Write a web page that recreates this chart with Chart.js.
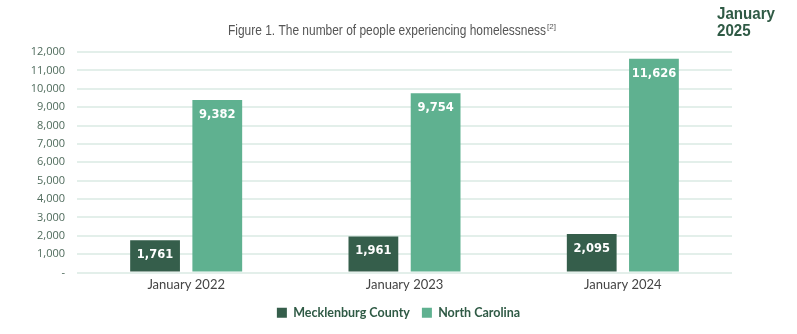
<!DOCTYPE html>
<html>
<head>
<meta charset="utf-8">
<script src="https://cdn.jsdelivr.net/npm/chart.js@4"></script>
<style>
  html, body { margin: 0; padding: 0; background: #fff; }
  #wrap { width: 797px; height: 334px; position: relative; }
</style>
</head>
<body>
<div id="wrap"><canvas id="chart"></canvas></div>
<script>
// data
var categories = ['January 2022', 'January 2023', 'January 2024'];
var mecklenburg = [1761, 1961, 2095];
var northCarolina = [9382, 9754, 11626];
var seriesNames = ['Mecklenburg County', 'North Carolina'];
var yMax = 12000;
var yStep = 1000;

var titleText = 'Figure 1. The number of people experiencing homelessness';
var titleNote = '[2]';
var cornerLines = ['January', '2025'];

var darkGreen = '#355e4b';
var lightGreen = '#5fb190';

// white numbers near the top of each bar
var barLabels = {
  id: 'barLabels',
  afterDatasetsDraw(chart) {
    var ctx = chart.ctx;
    ctx.save();
    ctx.fillStyle = '#fff';
    ctx.font = 'bold 11.5px "DejaVu Sans"';
    ctx.textAlign = 'center';
    ctx.textBaseline = 'middle';
    chart.data.datasets.forEach(function (ds, i) {
      chart.getDatasetMeta(i).data.forEach(function (bar, j) {
        ctx.fillText(ds.data[j].toLocaleString('en-US'), bar.x, bar.y + 15);
      });
    });
    ctx.restore();
  }
};

// title and the "January 2025" tag
var headings = {
  id: 'headings',
  afterDraw(chart) {
    var ctx = chart.ctx;
    ctx.save();
    ctx.fillStyle = '#555';
    ctx.font = '14px "Liberation Sans Narrow", "Liberation Sans"';
    ctx.textBaseline = 'middle';
    var w = ctx.measureText(titleText).width;
    var x = 228;
    ctx.save();
    ctx.translate(x, 31);
    ctx.scale(318 / w, 1);
    ctx.fillText(titleText, 0, 0);
    ctx.restore();
    ctx.font = '8px "Liberation Sans Narrow", "Liberation Sans"';
    ctx.fillText(titleNote, x + 319, 27);

    ctx.fillStyle = '#2f5a45';
    ctx.font = 'bold 16px "Liberation Sans"';
    var cw = ctx.measureText(cornerLines[0]).width;
    ctx.save();
    ctx.translate(717, 0);
    ctx.scale(58 / cw, 1);
    ctx.fillText(cornerLines[0], 0, 15);
    ctx.fillText(cornerLines[1], 0, 32);
    ctx.restore();
    ctx.restore();
  }
};

new Chart(document.getElementById('chart'), {
  type: 'bar',
  data: {
    labels: categories,
    datasets: [
      { label: seriesNames[0], data: mecklenburg, backgroundColor: darkGreen },
      { label: seriesNames[1], data: northCarolina, backgroundColor: lightGreen }
    ]
  },
  options: {
    responsive: true,
    maintainAspectRatio: false,
    animation: false,
    categoryPercentage: 0.57,
    barPercentage: 0.8,
    layout: { padding: { left: 0, right: 0, top: 52, bottom: 5 } },
    plugins: {
      title: { display: false },
      tooltip: { enabled: false },
      legend: {
        position: 'bottom',
        labels: {
          boxWidth: 10,
          boxHeight: 10,
          padding: 12,
          color: '#2f5a45',
          font: { family: 'Lato', size: 12.5, weight: 'bold' }
        }
      }
    },
    scales: {
      x: {
        grid: { display: false, drawTicks: false, tickLength: 0 },
        border: { display: false },
        ticks: { color: '#444', padding: 5, font: { family: 'Lato', size: 13 } },
        afterFit(scale) { scale.height = 22; }
      },
      y: {
        min: 0,
        max: yMax,
        border: { display: false },
        grid: { color: '#e3efea', lineWidth: 2, drawTicks: false },
        ticks: {
          stepSize: yStep,
          padding: 12,
          color: '#4f6b5c',
          font: { family: '"Open Sans"', size: 11 },
          callback: function (v) { return v === 0 ? '-' : v.toLocaleString('en-US'); }
        },
        afterFit(scale) { scale.width = 77; }
      },
      // empty strip on the right, keeps the legend centred on the page
      side: {
        position: 'right',
        grid: { display: false },
        border: { display: false },
        ticks: { display: false },
        afterFit(scale) { scale.width = 65; }
      }
    }
  },
  plugins: [barLabels, headings]
});
</script>
</body>
</html>
